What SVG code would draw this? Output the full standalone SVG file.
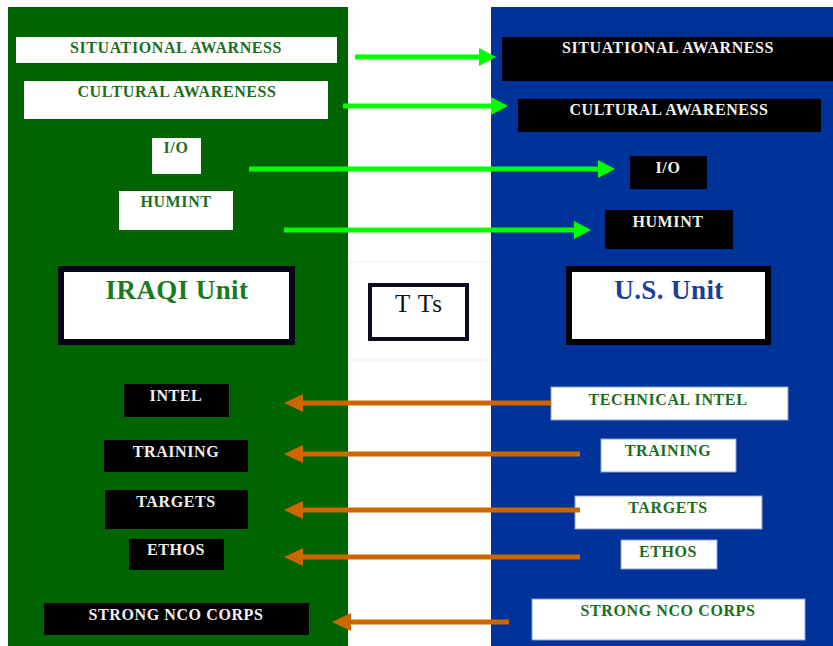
<svg xmlns="http://www.w3.org/2000/svg" width="833" height="646" viewBox="0 0 833 646">
<style>
.lbl{font-family:"Liberation Serif","Times New Roman",serif;font-weight:bold;font-size:16px;letter-spacing:0.6px;text-anchor:middle}
.gt{fill:#1b6e1b}
.wt{fill:#f2f2f2}
.wbox{fill:#ffffff}
.wboxb{fill:#ffffff;stroke:#8fa0d0;stroke-width:1}
.bbox{fill:#000000}
.unit{font-family:"Liberation Serif","Times New Roman",serif;font-weight:bold;font-size:27px;letter-spacing:0.4px;text-anchor:middle}
.garrow{stroke:#00ff00;stroke-width:5;fill:none}
.oarrow{stroke:#cc6600;stroke-width:5;fill:none}
</style>
<defs>
<marker id="gh" markerUnits="userSpaceOnUse" markerWidth="17" markerHeight="18" refX="0" refY="9" orient="auto">
<path d="M0,0 L17,9 L0,18 z" fill="#00ff00"/>
</marker>
<marker id="oh" markerUnits="userSpaceOnUse" markerWidth="19" markerHeight="18" refX="0" refY="9" orient="auto">
<path d="M0,0 L19,9 L0,18 z" fill="#cc6600"/>
</marker>
</defs>
<rect x="0" y="0" width="833" height="646" fill="#ffffff"/>
<g id="panels">
<rect x="8" y="7" width="340" height="639" fill="#006400"/>
<rect x="491" y="7" width="342" height="639" fill="#003399"/>
<line x1="348" y1="262" x2="491" y2="262" stroke="#eeeeee" stroke-width="1"/>
<line x1="348" y1="360" x2="491" y2="360" stroke="#eeeeee" stroke-width="1"/>
</g>
<g id="l-situational"><rect class="wbox" x="16" y="37" width="321" height="26"/><text class="lbl gt" x="176" y="53">SITUATIONAL AWARNESS</text></g>
<g id="l-cultural"><rect class="wbox" x="24" y="81" width="304" height="38"/><text class="lbl gt" x="177" y="97">CULTURAL AWARENESS</text></g>
<g id="l-io"><rect class="wbox" x="152" y="138" width="49" height="36"/><text class="lbl gt" x="176" y="153">I/O</text></g>
<g id="l-humint"><rect class="wbox" x="119" y="191" width="114" height="39"/><text class="lbl gt" x="176" y="207">HUMINT</text></g>
<g id="r-situational"><rect class="bbox" x="502" y="37" width="331" height="44"/><text class="lbl wt" x="668" y="53">SITUATIONAL AWARNESS</text></g>
<g id="r-cultural"><rect class="bbox" x="518" y="99" width="303" height="33"/><text class="lbl wt" x="669" y="115">CULTURAL AWARENESS</text></g>
<g id="r-io"><rect class="bbox" x="630" y="156" width="77" height="33"/><text class="lbl wt" x="668" y="173">I/O</text></g>
<g id="r-humint"><rect class="bbox" x="605" y="210" width="128" height="39"/><text class="lbl wt" x="668" y="227">HUMINT</text></g>
<g id="iraqi-unit"><rect x="61" y="269" width="231" height="73" fill="#ffffff" stroke="#05051a" stroke-width="6"/><text class="unit" x="177" y="299" fill="#1b7a1b">IRAQI Unit</text></g>
<g id="tts"><rect x="370" y="285" width="97" height="54" fill="#ffffff" stroke="#0a0a20" stroke-width="4"/><text x="419" y="312" font-family="'Liberation Serif','Times New Roman',serif" font-size="25" letter-spacing="1" text-anchor="middle" fill="#111111">T Ts</text></g>
<g id="us-unit"><rect x="569" y="269" width="199" height="73" fill="#ffffff" stroke="#000000" stroke-width="6"/><text class="unit" x="669" y="299" fill="#1a3d9e">U.S. Unit</text></g>
<g id="l-intel"><rect class="bbox" x="124" y="384" width="105" height="33"/><text class="lbl wt" x="176" y="401">INTEL</text></g>
<g id="l-training"><rect class="bbox" x="104" y="440" width="144" height="32"/><text class="lbl wt" x="176" y="457">TRAINING</text></g>
<g id="l-targets"><rect class="bbox" x="105" y="490" width="143" height="39"/><text class="lbl wt" x="176" y="507">TARGETS</text></g>
<g id="l-ethos"><rect class="bbox" x="129" y="539" width="95" height="31"/><text class="lbl wt" x="176" y="555">ETHOS</text></g>
<g id="l-nco"><rect class="bbox" x="44" y="603" width="265" height="32"/><text class="lbl wt" x="176" y="620">STRONG NCO CORPS</text></g>
<g id="r-techintel"><rect class="wboxb" x="551" y="387" width="237" height="33"/><text class="lbl gt" x="668" y="405">TECHNICAL INTEL</text></g>
<g id="r-training"><rect class="wboxb" x="601" y="439" width="135" height="33"/><text class="lbl gt" x="668" y="456">TRAINING</text></g>
<g id="r-targets"><rect class="wboxb" x="575" y="496" width="187" height="33"/><text class="lbl gt" x="668" y="513">TARGETS</text></g>
<g id="r-ethos"><rect class="wboxb" x="621" y="540" width="96" height="29"/><text class="lbl gt" x="668" y="557">ETHOS</text></g>
<g id="r-nco"><rect class="wboxb" x="532" y="599" width="273" height="41"/><text class="lbl gt" x="668" y="616">STRONG NCO CORPS</text></g>
<g id="connectors">
<line class="garrow" x1="355" y1="57" x2="479" y2="57" marker-end="url(#gh)"/>
<line class="garrow" x1="343" y1="106" x2="491" y2="106" marker-end="url(#gh)"/>
<line class="garrow" x1="249" y1="169" x2="598" y2="169" marker-end="url(#gh)"/>
<line class="garrow" x1="284" y1="230" x2="574" y2="230" marker-end="url(#gh)"/>
<line class="oarrow" x1="551" y1="403" x2="303" y2="403" marker-end="url(#oh)"/>
<line class="oarrow" x1="580" y1="454" x2="303" y2="454" marker-end="url(#oh)"/>
<line class="oarrow" x1="580" y1="510" x2="303" y2="510" marker-end="url(#oh)"/>
<line class="oarrow" x1="580" y1="557" x2="303" y2="557" marker-end="url(#oh)"/>
<line class="oarrow" x1="509" y1="622" x2="351" y2="622" marker-end="url(#oh)"/>
</g>
</svg>
